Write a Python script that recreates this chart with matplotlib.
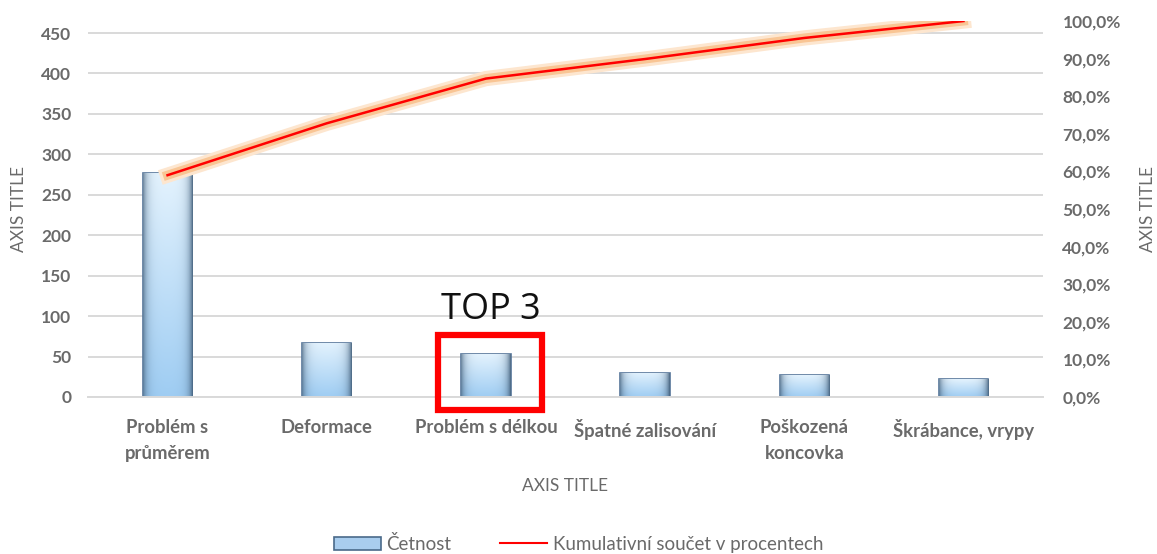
import matplotlib.pyplot as plt
import matplotlib.patheffects as pe
import numpy as np
from matplotlib.colors import to_rgb
from matplotlib.patches import Patch, Rectangle
from matplotlib.lines import Line2D
from matplotlib.ticker import FuncFormatter

plt.rcParams["font.family"] = ["Lato", "DejaVu Sans"]

categories = [
    "Problém s\nprůměrem",
    "Deformace",
    "Problém s délkou",
    "Špatné zalisování",
    "Poškozená\nkoncovka",
    "Škrábance, vrypy",
]
counts = [277, 67, 53, 30, 27, 22]
cumulative_pct = [0.590, 0.728, 0.847, 0.899, 0.955, 1.000]
highlight_idx = 2

text_gray = "#6a6a6a"
grid_gray = "#d9d9d9"


def bar_gradient(n=80):
    # light blue body with darker bevelled sides
    top = np.array(to_rgb("#e4f3fe"))
    bottom = np.array(to_rgb("#9fcdf3"))
    dark = np.array(to_rgb("#3f5c78"))
    yy = np.linspace(0, 1, n)[:, None]
    xx = np.linspace(0, 1, n)[None, :]
    base = top[None, None, :] * (1 - yy[..., None]) + bottom[None, None, :] * yy[..., None]
    base = np.broadcast_to(base, (n, n, 3)).copy()
    w = 0.7 * np.exp(-xx / 0.08) + 0.9 * np.exp(-(1 - xx) / 0.08)
    w = np.clip(w, 0, 1)[..., None]
    img = base * (1 - w) + dark * w
    return np.clip(img, 0, 1)


fig, ax = plt.subplots(figsize=(11.57, 5.54), dpi=100)
fig.subplots_adjust(left=0.076, right=0.9015, bottom=0.2834, top=0.962)

x = np.arange(len(categories))
bars = ax.bar(x, counts, 0.31, facecolor="#c6e2f7", edgecolor="#56769a",
              linewidth=1.2, zorder=2)
grad = bar_gradient()
for b in bars:
    im = ax.imshow(grad, extent=[b.get_x(), b.get_x() + b.get_width(), 0, b.get_height()],
                   aspect="auto", zorder=2.1, interpolation="bilinear")
    im.set_clip_path(b)

ax.set_xlim(-0.5, len(categories) - 0.5)
ax.set_ylim(0, 464.8)
ax.set_yticks(np.arange(0, 451, 50))
ax.yaxis.grid(True, color=grid_gray, linewidth=1.4)
ax.set_axisbelow(True)
for s in ["top", "right", "left"]:
    ax.spines[s].set_visible(False)
ax.spines["bottom"].set_color(grid_gray)
ax.spines["bottom"].set_linewidth(1.4)
ax.tick_params(axis="both", length=0, colors=text_gray, labelsize=12.5)
ax.tick_params(axis="y", pad=12)
ax.tick_params(axis="x", pad=16)
ax.set_xticks(x)
ax.set_xticklabels(categories, linespacing=1.6, fontweight="bold", fontsize=13.3)
for t in ax.get_yticklabels():
    t.set_fontweight("bold")
ax.set_ylabel("AXIS TITLE", color=text_gray, fontsize=12.5, labelpad=10)
ax.set_xlabel("AXIS TITLE", color=text_gray, fontsize=12.5, labelpad=12)

ax2 = ax.twinx()
ax2.set_ylim(0, 1.0)
ax2.set_yticks(np.arange(0, 1.01, 0.1))
ax2.yaxis.set_major_formatter(FuncFormatter(lambda v, p: f"{v * 100:.1f}%".replace(".", ",")))
for s in ax2.spines.values():
    s.set_visible(False)
ax2.tick_params(axis="y", length=0, colors=text_gray, labelsize=12.5, pad=14)
for t in ax2.get_yticklabels():
    t.set_fontweight("bold")
ax2.set_ylabel("AXIS TITLE", color=text_gray, fontsize=12.5, labelpad=14)

ax2.plot(x, cumulative_pct, color="#ff0000", linewidth=1.8, zorder=5,
         path_effects=[pe.Stroke(linewidth=11, foreground="#fde6cf"),
                       pe.Stroke(linewidth=6.5, foreground="#f9c594"),
                       pe.Normal()])

# highlight box around the third category
ax.add_patch(Rectangle((highlight_idx + 0.025 - 0.327, -16), 0.654, 93, fill=False,
                       edgecolor="#ff0000", linewidth=4.5, clip_on=False, zorder=6))
ax.text(highlight_idx + 0.03, 85, "TOP 3", ha="center", va="bottom", fontsize=26,
        color="#111111", family=["Open Sans", "DejaVu Sans"])

handles = [
    Patch(facecolor="#a9cdee", edgecolor="#4a6a8a", linewidth=1.2),
    Line2D([0], [0], color="#ff0000", linewidth=1.5),
]
fig.legend(handles, ["Četnost", "Kumulativní součet v procentech"], loc="lower center",
           bbox_to_anchor=(0.5, -0.028), ncol=2, frameon=False, fontsize=13.5,
           labelcolor=text_gray, handlelength=2.5, columnspacing=2.6, handletextpad=0.3)

fig.savefig("out.png", dpi=100)
